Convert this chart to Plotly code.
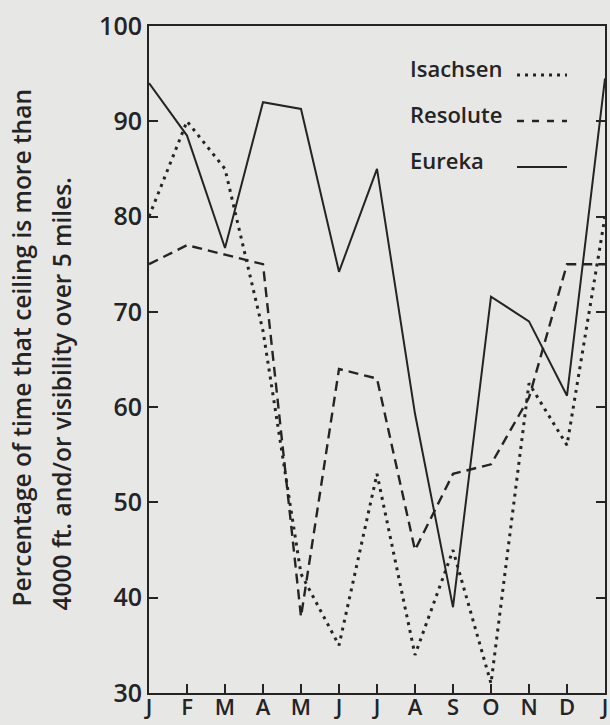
import plotly.graph_objects as go

months = ["J", "F", "M", "A", "M", "J", "J", "A", "S", "O", "N", "D", "J"]
isachsen = [80, 90, 85, 68, 42.5, 35, 53, 34, 45, 31, 62.5, 56, 80]
resolute = [75, 77, 76, 75, 38, 64, 63, 45, 53, 54, 61, 75, 75]
eureka = [94, 88.5, 76.7, 92, 91.3, 74.2, 85, 59.3, 39, 71.6, 69, 61.2, 94.5]
y_ticks = [30, 40, 50, 60, 70, 80, 90, 100]
station_names = ["Isachsen", "Resolute", "Eureka"]

xs = list(range(len(months)))
INK = "#242424"
BG = "#e7e7e5"
FONT = "Open Sans"

fig = go.Figure()
fig.add_trace(go.Scatter(x=xs, y=isachsen, mode="lines", name="Isachsen",
                         line=dict(color=INK, width=3, dash="3px,5px")))
fig.add_trace(go.Scatter(x=xs, y=resolute, mode="lines", name="Resolute",
                         line=dict(color=INK, width=2.4, dash="10px,6px")))
fig.add_trace(go.Scatter(x=xs, y=eureka, mode="lines", name="Eureka",
                         line=dict(color=INK, width=2)))

L, R, T, B = 149, 5, 26, 32
W, H = 610, 725
pw, ph = W - L - R, H - T - B

def px(xp):
    return (xp - L) / pw

def py(yp):
    return (H - B - yp) / ph

# legend (text + sample line styles)
leg_y = [68, 114, 160]
dashes = ["3px,5px", "7px,8px", "solid"]
widths = [3, 2.4, 2]
for name, yy, d, w in zip(station_names, leg_y, dashes, widths):
    fig.add_annotation(x=px(408), y=py(yy), xref="paper", yref="paper",
                       text=name, showarrow=False, xanchor="left", yanchor="middle",
                       font=dict(family=FONT, size=22, color=INK, weight=600))
    fig.add_shape(type="line", xref="paper", yref="paper",
                  x0=px(517), x1=px(567), y0=py(yy + 7), y1=py(yy + 7),
                  line=dict(color=INK, width=w, dash=d))

# y axis title (two lines)
fig.add_annotation(x=px(21), y=py(609), xref="paper", yref="paper",
                   text="Percentage of time that ceiling is more than",
                   textangle=-90, showarrow=False, xanchor="center", yanchor="bottom",
                   font=dict(family=FONT, size=24.5, color=INK, weight=600))
fig.add_annotation(x=px(61), y=py(613), xref="paper", yref="paper",
                   text="4000 ft. and/or visibility over 5 miles.",
                   textangle=-90, showarrow=False, xanchor="center", yanchor="bottom",
                   font=dict(family=FONT, size=24.5, color=INK, weight=600))

fig.update_layout(
    width=W, height=H,
    margin=dict(l=L, r=R, t=T, b=B),
    paper_bgcolor=BG,
    plot_bgcolor=BG,
    showlegend=False,
    font=dict(family=FONT, color=INK),
)
fig.update_xaxes(range=[0, len(months) - 1], tickvals=xs, ticktext=months,
                 automargin=False, ticklabelstandoff=-6,
                 showgrid=False, zeroline=False, showline=True, linecolor=INK,
                 linewidth=2, mirror=True, ticks="inside", ticklen=9, tickwidth=2,
                 tickcolor=INK, tickfont=dict(family=FONT, size=22, color=INK, weight=600))
fig.update_yaxes(range=[30, 100], tickvals=y_ticks,
                 automargin=False,
                 showgrid=False, zeroline=False, showline=True, linecolor=INK,
                 linewidth=2, mirror="ticks", ticks="inside", ticklen=9, tickwidth=2,
                 tickcolor=INK, tickfont=dict(family=FONT, size=25, color=INK, weight=600))

fig.write_html(
    "out.html",
    config={"displayModeBar": False},
    post_script="document.body.style.margin='0';document.body.style.background='%s';" % BG,
)
